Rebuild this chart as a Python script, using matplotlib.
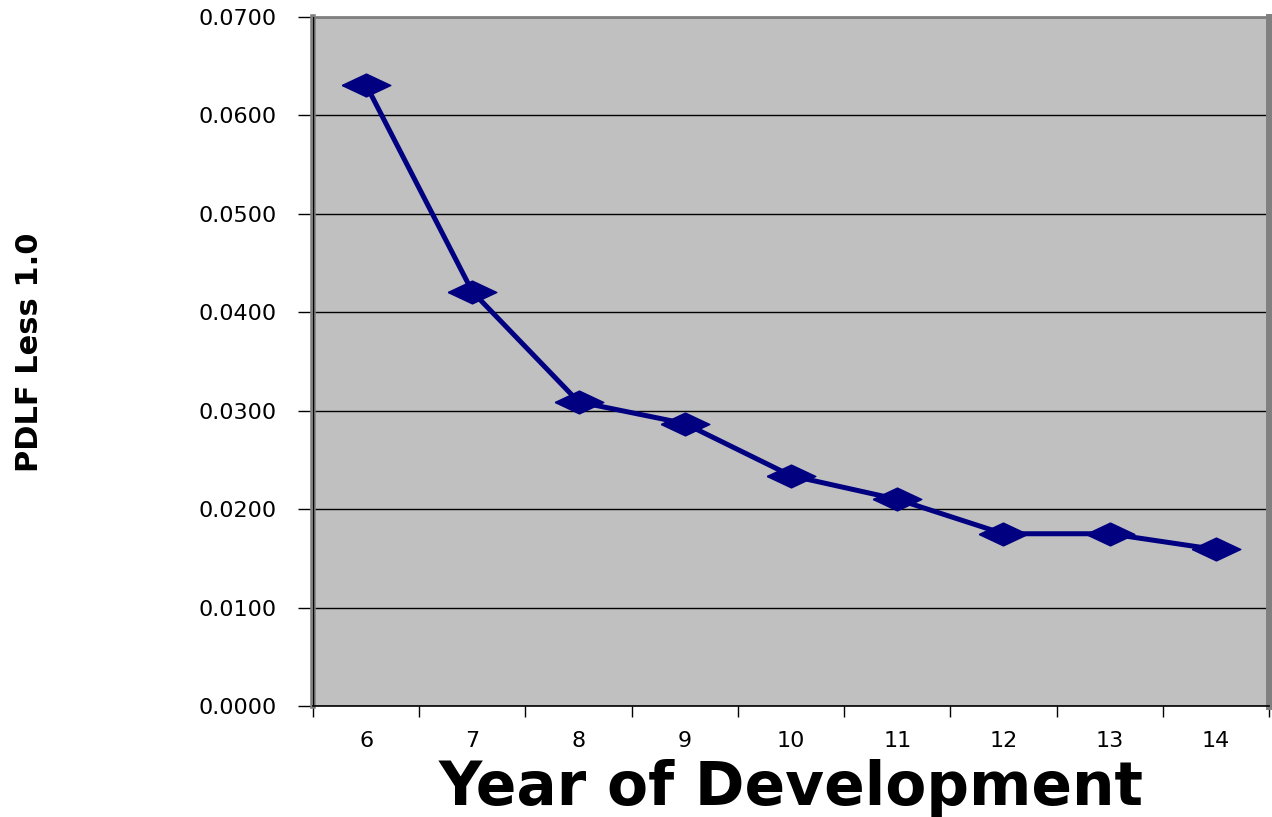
import matplotlib
matplotlib.use("Agg")
import matplotlib.pyplot as plt
import numpy as np

# Data
years = [6, 7, 8, 9, 10, 11, 12, 13, 14]
pdlf_less_one = [0.0631, 0.0421, 0.0309, 0.0287, 0.0234, 0.0210, 0.0175, 0.0175, 0.0159]
y_ticks = [0.0, 0.01, 0.02, 0.03, 0.04, 0.05, 0.06, 0.07]

navy = '#000080'

fig = plt.figure(figsize=(12.72, 8.17), dpi=100)
ax = fig.add_axes([313 / 1272, 111 / 817, 956 / 1272, 689 / 817])
ax.set_facecolor('#C0C0C0')

# Wide diamond marker (the Excel markers look stretched sideways)
diamond = [(-1, 0), (0, 0.47), (1, 0), (0, -0.47), (-1, 0)]
ax.plot(years, pdlf_less_one, color=navy, linewidth=3.6,
        marker=diamond, markersize=35, markerfacecolor=navy,
        markeredgecolor=navy, zorder=3)

# Category axis: ticks between categories, labels at centres
ax.set_xlim(5.5, 14.5)
ax.set_xticks(np.arange(5.5, 15, 1.0))
ax.set_xticklabels([])
ax.set_xticks(years, minor=True)
ax.set_xticklabels([str(y) for y in years], minor=True)
ax.tick_params(axis='x', which='major', direction='out', length=8, width=1, color='black')
ax.tick_params(axis='x', which='minor', length=0, pad=18, labelsize=16)

ax.set_ylim(0, 0.07)
ax.set_yticks(y_ticks)
ax.set_yticklabels(['{:.4f}'.format(v) for v in y_ticks])
ax.tick_params(axis='y', direction='out', length=11, width=1, pad=15, labelsize=16)

ax.grid(axis='y', color='black', linewidth=1)
ax.set_axisbelow(True)

# Frame: gray 3D-looking border with black axis lines
ax.spines['left'].set_color('#808080')
ax.spines['left'].set_linewidth(4)
ax.spines['right'].set_color('#808080')
ax.spines['right'].set_linewidth(5)
ax.spines['top'].set_color('#808080')
ax.spines['top'].set_linewidth(2)
ax.spines['bottom'].set_color('black')
ax.spines['bottom'].set_linewidth(1.2)
ax.axvline(5.5, color='black', linewidth=1, zorder=4)

ax.set_xlabel('Year of Development', fontsize=43, fontweight='bold', labelpad=6)
fig.text(30 / 1272, 1 - 352 / 817, 'PDLF Less 1.0', rotation=90, fontsize=22,
         fontweight='bold', ha='center', va='center')

fig.savefig('out.png', dpi=100)
